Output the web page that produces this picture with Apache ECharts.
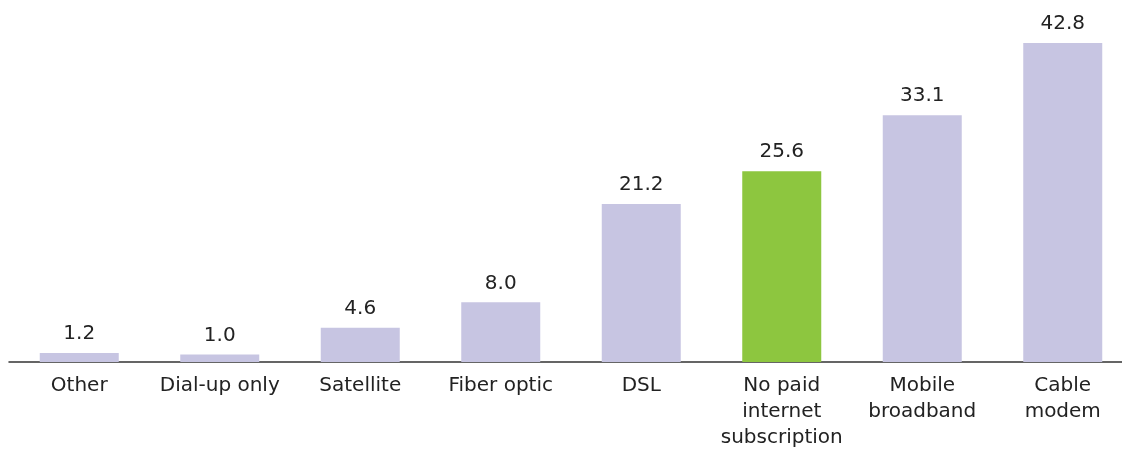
<!doctype html>
<html>
<head>
<meta charset="utf-8">
<title>Internet subscription</title>
<script src="https://cdn.jsdelivr.net/npm/echarts@6/dist/echarts.min.js"></script>
<style>
  html, body { margin: 0; padding: 0; background: #fff; overflow: hidden; }
  #main { width: 1133px; height: 451px; }
</style>
</head>
<body>
<div id="main"></div>
<script>
var categories = ['Other', 'Dial-up only', 'Satellite', 'Fiber optic', 'DSL',
  'No paid\ninternet\nsubscription', 'Mobile\nbroadband', 'Cable\nmodem'];
var values = [1.2, 1.0, 4.6, 8.0, 21.2, 25.6, 33.1, 42.8];
var highlight = 'No paid\ninternet\nsubscription';

var chart = echarts.init(document.getElementById('main'));
var option = {
  animation: false,
  grid: { left: 9, right: 0, top: 43, bottom: 89 },
  xAxis: {
    type: 'category',
    data: categories,
    axisLine: { lineStyle: { color: '#333', width: 1.5 } },
    axisTick: { show: false },
    axisLabel: {
      interval: 0,
      color: '#222',
      fontFamily: 'DejaVu Sans',
      fontSize: 20,
      lineHeight: 26,
      margin: 11
    }
  },
  yAxis: {
    type: 'value',
    min: 0,
    max: 42.8,
    show: false,
    splitLine: { show: false }
  },
  series: [{
    type: 'bar',
    barWidth: 79,
    data: values.map(function (v, i) {
      return {
        value: v,
        itemStyle: { color: categories[i] === highlight ? '#8dc63f' : '#c7c5e2' }
      };
    }),
    label: {
      show: true,
      position: 'top',
      distance: 9,
      color: '#222',
      fontFamily: 'DejaVu Sans',
      fontSize: 20,
      formatter: function (p) { return p.value.toFixed(1); }
    }
  }]
};
chart.setOption(option);
</script>
</body>
</html>
